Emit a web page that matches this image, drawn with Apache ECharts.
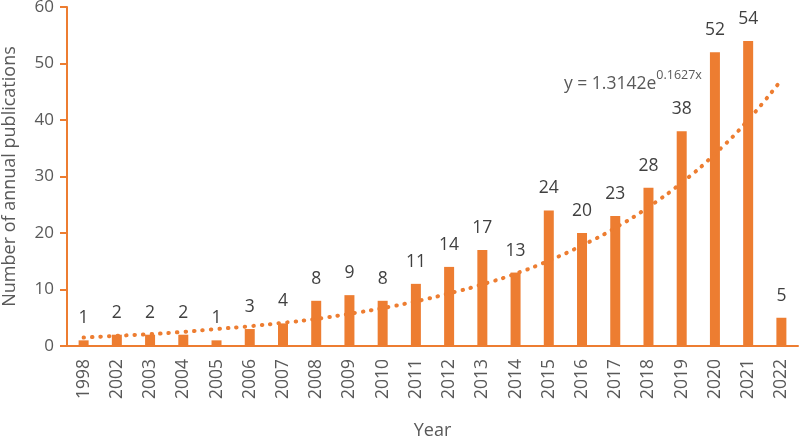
<!DOCTYPE html>
<html>
<head>
<meta charset="utf-8">
<title>Annual publications</title>
<script src="https://cdn.jsdelivr.net/npm/echarts@6/dist/echarts.min.js"></script>
<style>
  html, body { margin: 0; padding: 0; background: #fff; }
  #main { width: 800px; height: 439px; }
</style>
</head>
<body>
<div id="main"></div>
<script type="text/javascript">
// data
var years = ['1998', '2002', '2003', '2004', '2005', '2006', '2007', '2008', '2009', '2010', '2011',
  '2012', '2013', '2014', '2015', '2016', '2017', '2018', '2019', '2020', '2021', '2022'];
var counts = [1, 2, 2, 2, 1, 3, 4, 8, 9, 8, 11, 14, 17, 13, 24, 20, 23, 28, 38, 52, 54, 5];
// dotted exponential trend line, estimated at each year
var trend = [1.5, 1.8, 2.1, 2.5, 3.0, 3.5, 4.1, 4.8, 5.7, 6.7, 7.9, 9.3, 10.9, 12.8, 15.1,
  17.8, 20.9, 24.6, 28.9, 34.0, 40.0, 47.1];
var yTicks = [0, 10, 20, 30, 40, 50, 60];

var orange = '#ED7D31';
var font = '"Open Sans", Lato, sans-serif';

var myChart = echarts.init(document.getElementById('main'));
var option = {
  animation: false,
  textStyle: { fontFamily: font },
  title: {
    left: 559,
    top: 64,
    text: '{a|y = 1.3142e}{b|0.1627x}',
    textStyle: {
      fontWeight: 'normal',
      rich: {
        a: { fontSize: 17.5, fontWeight: 'normal', color: '#595959', fontFamily: font, verticalAlign: 'bottom', lineHeight: 24 },
        b: { fontSize: 12.5, fontWeight: 'normal', color: '#595959', fontFamily: font, verticalAlign: 'top', lineHeight: 24, padding: [0, 0, 10, 0] }
      }
    }
  },
  grid: { left: 67, right: 2, top: 7, bottom: 93, outerBoundsMode: 'none', containLabel: false },
  xAxis: {
    type: 'category',
    data: years,
    name: 'Year',
    nameLocation: 'middle',
    nameGap: 76,
    nameTextStyle: { fontSize: 18, color: '#595959', fontFamily: font },
    axisLine: { lineStyle: { color: orange, width: 2 } },
    axisTick: { show: false },
    axisLabel: { rotate: 90, fontSize: 17.5, color: '#595959', margin: 13, fontFamily: font }
  },
  yAxis: {
    type: 'value',
    min: yTicks[0],
    max: yTicks[yTicks.length - 1],
    interval: 10,
    name: 'Number of annual publications',
    nameLocation: 'middle',
    nameGap: 48,
    nameTextStyle: { fontSize: 18, color: '#595959', fontFamily: font },
    splitLine: { show: false },
    axisLine: { show: true, lineStyle: { color: orange, width: 2 } },
    axisTick: { show: true, length: 7, lineStyle: { color: orange, width: 2 } },
    axisLabel: { fontSize: 17, color: '#595959', margin: 13, fontFamily: font }
  },
  series: [
    {
      name: 'Publications',
      type: 'bar',
      data: counts,
      barWidth: 10,
      itemStyle: { color: orange },
      label: {
        show: true,
        position: 'top',
        distance: 13,
        fontSize: 17.5,
        color: '#404040',
        fontFamily: font
      },
      z: 2
    },
    {
      name: 'Trend',
      type: 'line',
      data: trend,
      smooth: true,
      showSymbol: false,
      symbol: 'none',
      lineStyle: { color: orange, width: 4, type: [0.5, 8], cap: 'round' },
      z: 3
    }
  ]
};
myChart.setOption(option);
</script>
</body>
</html>
